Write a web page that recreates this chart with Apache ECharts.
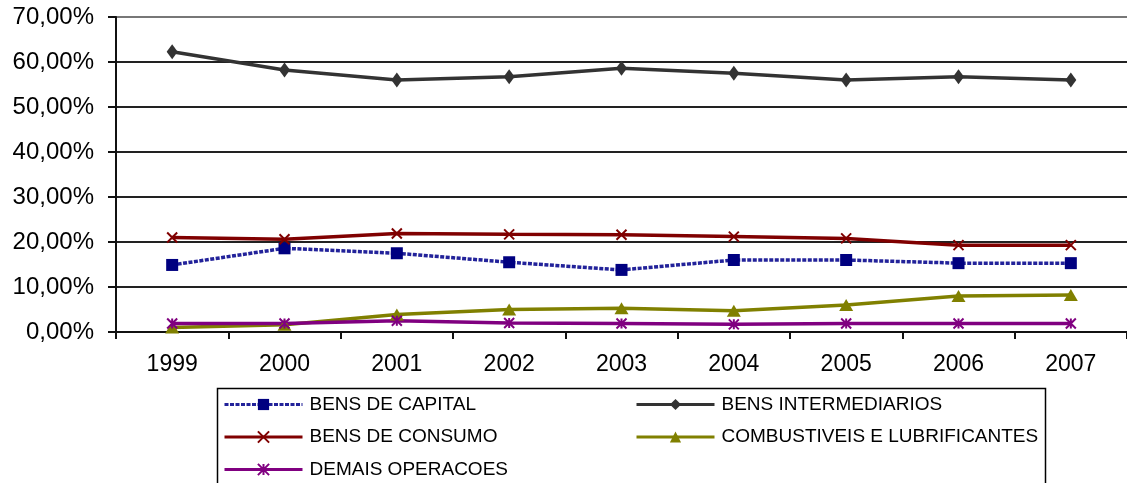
<!DOCTYPE html>
<html>
<head>
<meta charset="utf-8">
<script src="https://cdn.jsdelivr.net/npm/echarts@6/dist/echarts.min.js"></script>
<style>
  html, body { margin: 0; padding: 0; background: #fff; }
  #chart { width: 1127px; height: 483px; }
</style>
</head>
<body>
<div id="chart"></div>
<script>
// anos e participação (%) de cada categoria
const anos = ["1999", "2000", "2001", "2002", "2003", "2004", "2005", "2006", "2007"];
const bensCapital = [14.9, 18.6, 17.5, 15.5, 13.8, 16.0, 16.0, 15.3, 15.3];
const bensIntermediarios = [62.3, 58.2, 56.0, 56.7, 58.6, 57.5, 56.0, 56.7, 56.0];
const bensConsumo = [21.0, 20.6, 21.9, 21.7, 21.6, 21.2, 20.8, 19.3, 19.3];
const combustiveis = [1.0, 1.6, 3.9, 5.0, 5.3, 4.7, 6.0, 8.0, 8.2];
const demais = [1.9, 1.9, 2.5, 2.0, 1.9, 1.7, 1.9, 1.9, 1.9];

const FONT = "Liberation Sans, Arial, sans-serif";
const xPath = "path://M0,0L10,10M10,0L0,10";
const astPath = "path://M0,0L10,10M10,0L0,10M5,0L5,10";

const chart = echarts.init(document.getElementById("chart"), null, { renderer: "canvas" });

function serie(nome, dados, cor, simbolo, tam, extra) {
  return Object.assign({
    name: nome,
    type: "line",
    data: dados,
    symbol: simbolo,
    symbolSize: tam,
    showAllSymbol: true,
    animation: false,
    lineStyle: { color: cor, width: 3 },
    itemStyle: { color: cor, borderColor: cor, borderWidth: 0 },
    emphasis: { disabled: true }
  }, extra || {});
}

const legendText = { color: "#000", fontSize: 19, fontFamily: FONT, lineHeight: 18, padding: [0, 0, 0, 2] };

chart.setOption({
  backgroundColor: "#fff",
  animation: false,
  grid: { left: 116, top: 17, width: 1017, height: 315, containLabel: false },
  xAxis: {
    type: "category",
    data: anos,
    boundaryGap: true,
    axisLine: { lineStyle: { color: "#111", width: 2 } },
    axisTick: { show: true, length: 7, lineStyle: { color: "#111", width: 2 } },
    axisLabel: { color: "#000", fontSize: 23, fontFamily: FONT, margin: 21 },
    splitLine: { show: false }
  },
  yAxis: {
    type: "value",
    min: 0,
    max: 70,
    interval: 10,
    axisLine: { show: true, lineStyle: { color: "#111", width: 2 } },
    axisTick: { show: true, length: 8, lineStyle: { color: "#111", width: 2 } },
    axisLabel: {
      color: "#000", fontSize: 24, fontFamily: FONT, margin: 22,
      formatter: v => v.toFixed(2).replace(".", ",") + "%"
    },
    splitLine: {
      show: true,
      lineStyle: { color: ["#222", "#222", "#222", "#222", "#222", "#222", "#222", "#777"], width: 2 }
    }
  },
  legend: [
    {
      orient: "vertical", left: 223, top: 395, padding: 0, height: 90,
      itemGap: 13.5, itemWidth: 78, itemHeight: 14,
      lineStyle: { width: 3 },
      data: ["BENS DE CAPITAL", "BENS DE CONSUMO", "DEMAIS OPERACOES"],
      textStyle: legendText,
      selectedMode: false
    },
    {
      orient: "vertical", left: 635, top: 395, padding: 0, height: 90,
      itemGap: 13.5, itemWidth: 78, itemHeight: 14,
      lineStyle: { width: 3 },
      data: ["BENS INTERMEDIARIOS", "COMBUSTIVEIS E LUBRIFICANTES"],
      textStyle: legendText,
      selectedMode: false
    }
  ],
  graphic: [
    {
      type: "rect", left: 215, top: 386, silent: true, z: -1,
      shape: { width: 828, height: 110 },
      style: { fill: "none", stroke: "#000", lineWidth: 1.5 }
    }
  ],
  series: [
    serie("BENS DE CAPITAL", bensCapital, "#000080", "rect", 12,
      { lineStyle: { color: "#22229a", width: 3.5, type: [4, 1.5] } }),
    serie("BENS INTERMEDIARIOS", bensIntermediarios, "#333333", "diamond", [11, 15],
      { lineStyle: { color: "#333333", width: 3.5 } }),
    serie("BENS DE CONSUMO", bensConsumo, "#800000", xPath, 10,
      { lineStyle: { color: "#800000", width: 3.5 },
        itemStyle: { color: "#800000", borderColor: "#800000", borderWidth: 2 } }),
    serie("COMBUSTIVEIS E LUBRIFICANTES", combustiveis, "#808000", "triangle", [14, 12],
      { lineStyle: { color: "#808000", width: 3.5 } }),
    serie("DEMAIS OPERACOES", demais, "#800080", astPath, 10,
      { lineStyle: { color: "#800080", width: 3.5 },
        itemStyle: { color: "#800080", borderColor: "#800080", borderWidth: 2 } })
  ]
});
</script>
</body>
</html>
